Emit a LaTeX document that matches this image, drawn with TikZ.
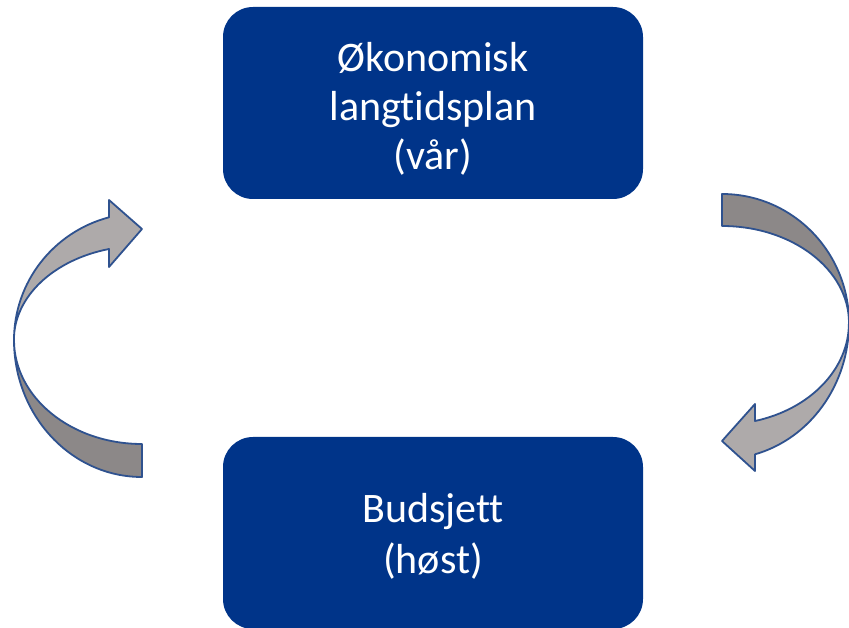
\documentclass[tikz,border=0pt]{standalone}
\usepackage{fontspec}
\setmainfont{Carlito}[Ligatures=NoCommon]
\usepackage{tikz}
\definecolor{boxblue}{RGB}{0,52,137}
\definecolor{rimblue}{RGB}{47,82,143}
\definecolor{lightgrey}{RGB}{174,170,170}
\definecolor{darkgrey}{RGB}{140,136,136}

\begin{document}
\begin{tikzpicture}[x=1pt, y=1pt,
    box/.style={fill=boxblue, rounded corners=30pt, minimum width=420pt,
      minimum height=192pt},
    boxtext/.style={text=white, align=center, font=\fontsize{42}{49}\selectfont},
    ribbon/.style={draw=rimblue, line width=1.8pt, line join=round}]
      \useasboundingbox (0,0) rectangle (849,627);

      \draw (433,524) node[box, label={[boxtext, yshift=-6pt]center:Økonomisk\\langtidsplan\\(vår)}] (plan) {};
      \draw (433,94) node[box, label={[boxtext, yshift=-3pt, font=\fontsize{42}{51}\selectfont]center:Budsjett\\(høst)}] (budget) {};

      % venstre pil, fra budsjett opp til plan
      \coordinate (lmid) at (14,287);
      \filldraw[ribbon, fill=darkgrey] (lmid)
        arc[start angle=180, end angle=270, x radius=128, y radius=137]
        -- (142,183)
        arc[start angle=270, end angle=180, x radius=128, y radius=104] -- cycle;
      \filldraw[ribbon, fill=lightgrey] (lmid)
        arc[start angle=180, end angle=104.9, x radius=128, y radius=127]
        -- (109,427) -- (142,398) -- (109,360) -- (109,378)
        arc[start angle=104.9, end angle=180, x radius=128, y radius=94] -- cycle;

      % hoyre pil, fra plan ned til budsjett
      \coordinate (rmid) at (849,304);
      \filldraw[ribbon, fill=darkgrey] (722,433)
        arc[start angle=90, end angle=0, x radius=127, y radius=129]
        arc[start angle=0, end angle=90, x radius=127, y radius=97] -- cycle;
      \filldraw[ribbon, fill=lightgrey] (rmid)
        arc[start angle=0, end angle=-74.9, x radius=127, y radius=136]
        -- (755,156) -- (722,186) -- (755,223) -- (755,206)
        arc[start angle=-74.9, end angle=0, x radius=127, y radius=101.5] -- cycle;
    \end{tikzpicture}
\end{document}
